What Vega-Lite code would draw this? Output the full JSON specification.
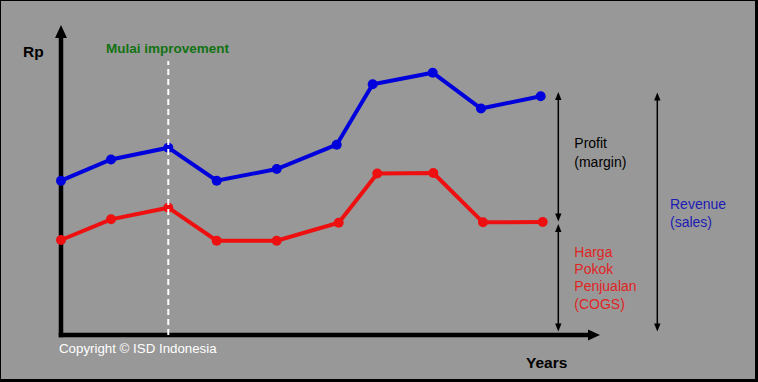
{
  "$schema": "https://vega.github.io/schema/vega-lite/v6.json",
  "width": 758,
  "height": 382,
  "autosize": {"type": "fit", "contains": "padding"},
  "padding": {"left": 1, "top": 1, "right": 3, "bottom": 3},
  "background": "#000000",
  "config": {
    "view": {"fill": "#989898", "stroke": null},
    "font": "Liberation Sans"
  },
  "datasets": {
    "series": [
      {"t": 0, "rp": 154.3, "s": "Revenue"},
      {"t": 50, "rp": 175.5, "s": "Revenue"},
      {"t": 107.3, "rp": 187.3, "s": "Revenue"},
      {"t": 155.7, "rp": 154.3, "s": "Revenue"},
      {"t": 215.7, "rp": 166, "s": "Revenue"},
      {"t": 275.7, "rp": 190.3, "s": "Revenue"},
      {"t": 311.7, "rp": 250.7, "s": "Revenue"},
      {"t": 371.7, "rp": 262.3, "s": "Revenue"},
      {"t": 420, "rp": 226.5, "s": "Revenue"},
      {"t": 479.7, "rp": 238.7, "s": "Revenue"},
      {"t": 0, "rp": 95, "s": "COGS"},
      {"t": 50, "rp": 115.7, "s": "COGS"},
      {"t": 107.3, "rp": 127.3, "s": "COGS"},
      {"t": 155.7, "rp": 94.3, "s": "COGS"},
      {"t": 215.7, "rp": 94.3, "s": "COGS"},
      {"t": 277.7, "rp": 112.3, "s": "COGS"},
      {"t": 316.3, "rp": 161.5, "s": "COGS"},
      {"t": 372.3, "rp": 162, "s": "COGS"},
      {"t": 422, "rp": 112.7, "s": "COGS"},
      {"t": 481.7, "rp": 113, "s": "COGS"}
    ],
    "axes": [
      {"x": 0, "y": 0, "x2": 0, "y2": 300},
      {"x": 0, "y": 0, "x2": 529, "y2": 0}
    ],
    "spans": [
      {"x": 497.3, "y": 117.5, "x2": 497.3, "y2": 239},
      {"x": 497.3, "y": 7.5, "x2": 497.3, "y2": 107},
      {"x": 596.3, "y": 7.5, "x2": 596.3, "y2": 238.5}
    ],
    "upHeads": [
      {"x": 497.3, "y": 239},
      {"x": 497.3, "y": 107},
      {"x": 596.3, "y": 238.5}
    ],
    "downHeads": [
      {"x": 497.3, "y": 117.5},
      {"x": 497.3, "y": 7.5},
      {"x": 596.3, "y": 7.5}
    ],
    "marker": [{"x": 107.3, "y": 0, "y2": 274}],
    "labels": [
      {"label": "Rp", "x": -38, "y": 283.3, "g": "axis"},
      {"label": "Years", "x": 465, "y": -27.7, "g": "axis"},
      {"label": "Mulai improvement", "x": 106.5, "y": 285.7, "g": "start"},
      {"label": "Profit", "x": 513.3, "y": 191, "g": "profit"},
      {"label": "(margin)", "x": 513.3, "y": 172.3, "g": "profit"},
      {"label": "Revenue", "x": 609, "y": 130, "g": "revenue"},
      {"label": "(sales)", "x": 609, "y": 112, "g": "revenue"},
      {"label": "Harga", "x": 513.3, "y": 81.7, "g": "cogs"},
      {"label": "Pokok", "x": 513.3, "y": 65, "g": "cogs"},
      {"label": "Penjualan", "x": 513.3, "y": 48.3, "g": "cogs"},
      {"label": "(COGS)", "x": 513.3, "y": 30, "g": "cogs"},
      {"label": "Copyright © ISD Indonesia", "x": -2, "y": -14.3, "g": "copy"}
    ]
  },
  "resolve": {"scale": {"color": "shared"}},
  "layer": [
    {
      "data": {"name": "axes"},
      "mark": {"type": "rule", "color": "#000000", "strokeWidth": 4.5, "strokeCap": "square"},
      "encoding": {
        "x": {"field": "x", "type": "quantitative", "scale": {"domain": [-60, 694], "nice": false, "zero": false}, "axis": null},
        "y": {"field": "y", "type": "quantitative", "scale": {"domain": [-44, 334], "nice": false, "zero": false}, "axis": null},
        "x2": {"field": "x2"},
        "y2": {"field": "y2"}
      }
    },
    {
      "data": {"values": [{"x": 0, "y": 303.6}]},
      "mark": {"type": "point", "shape": "M0,-1L0.92,1L-0.92,1Z", "size": 169, "filled": true, "color": "#000000", "opacity": 1},
      "encoding": {
        "x": {"field": "x", "type": "quantitative"},
        "y": {"field": "y", "type": "quantitative"}
      }
    },
    {
      "data": {"values": [{"x": 533, "y": 0}]},
      "mark": {"type": "point", "shape": "M1,0L-1,-0.92L-1,0.92Z", "size": 144, "filled": true, "color": "#000000", "opacity": 1},
      "encoding": {
        "x": {"field": "x", "type": "quantitative"},
        "y": {"field": "y", "type": "quantitative"}
      }
    },
    {
      "data": {"name": "spans"},
      "mark": {"type": "rule", "color": "#000000", "strokeWidth": 1.5},
      "encoding": {
        "x": {"field": "x", "type": "quantitative"},
        "y": {"field": "y", "type": "quantitative"},
        "x2": {"field": "x2"},
        "y2": {"field": "y2"}
      }
    },
    {
      "data": {"name": "upHeads"},
      "mark": {"type": "point", "shape": "M0,-1L0.8,1L-0.8,1Z", "size": 64, "filled": true, "color": "#000000", "opacity": 1},
      "encoding": {
        "x": {"field": "x", "type": "quantitative"},
        "y": {"field": "y", "type": "quantitative"}
      }
    },
    {
      "data": {"name": "downHeads"},
      "mark": {"type": "point", "shape": "M0,1L0.8,-1L-0.8,-1Z", "size": 64, "filled": true, "color": "#000000", "opacity": 1},
      "encoding": {
        "x": {"field": "x", "type": "quantitative"},
        "y": {"field": "y", "type": "quantitative"}
      }
    },
    {
      "data": {"name": "series"},
      "mark": {"type": "line", "strokeWidth": 4},
      "encoding": {
        "x": {"field": "t", "type": "quantitative"},
        "y": {"field": "rp", "type": "quantitative"},
        "color": {"field": "s", "type": "nominal", "scale": {"domain": ["Revenue", "COGS"], "range": ["#0000dd", "#ee1010"]}, "legend": null}
      }
    },
    {
      "data": {"name": "series"},
      "mark": {"type": "circle", "size": 100, "opacity": 1},
      "encoding": {
        "x": {"field": "t", "type": "quantitative"},
        "y": {"field": "rp", "type": "quantitative"},
        "color": {"field": "s", "type": "nominal", "legend": null}
      }
    },
    {
      "data": {"name": "marker"},
      "mark": {"type": "rule", "color": "#ffffff", "strokeWidth": 2, "strokeDash": [6, 4]},
      "encoding": {
        "x": {"field": "x", "type": "quantitative"},
        "y": {"field": "y", "type": "quantitative"},
        "y2": {"field": "y2"}
      }
    },
    {
      "data": {"name": "labels"},
      "transform": [{"filter": "datum.g === 'axis'"}],
      "mark": {"type": "text", "align": "left", "baseline": "middle", "fontSize": 15.5, "fontWeight": "bold", "color": "#000000"},
      "encoding": {
        "x": {"field": "x", "type": "quantitative"},
        "y": {"field": "y", "type": "quantitative"},
        "text": {"field": "label"}
      }
    },
    {
      "data": {"name": "labels"},
      "transform": [{"filter": "datum.g === 'start'"}],
      "mark": {"type": "text", "align": "center", "baseline": "middle", "fontSize": 13.5, "fontWeight": "bold", "color": "#127212"},
      "encoding": {
        "x": {"field": "x", "type": "quantitative"},
        "y": {"field": "y", "type": "quantitative"},
        "text": {"field": "label"}
      }
    },
    {
      "data": {"name": "labels"},
      "transform": [{"filter": "datum.g === 'profit'"}],
      "mark": {"type": "text", "align": "left", "baseline": "middle", "fontSize": 14, "color": "#000000"},
      "encoding": {
        "x": {"field": "x", "type": "quantitative"},
        "y": {"field": "y", "type": "quantitative"},
        "text": {"field": "label"}
      }
    },
    {
      "data": {"name": "labels"},
      "transform": [{"filter": "datum.g === 'revenue'"}],
      "mark": {"type": "text", "align": "left", "baseline": "middle", "fontSize": 14, "color": "#1c1cb4"},
      "encoding": {
        "x": {"field": "x", "type": "quantitative"},
        "y": {"field": "y", "type": "quantitative"},
        "text": {"field": "label"}
      }
    },
    {
      "data": {"name": "labels"},
      "transform": [{"filter": "datum.g === 'cogs'"}],
      "mark": {"type": "text", "align": "left", "baseline": "middle", "fontSize": 14, "color": "#e02424"},
      "encoding": {
        "x": {"field": "x", "type": "quantitative"},
        "y": {"field": "y", "type": "quantitative"},
        "text": {"field": "label"}
      }
    },
    {
      "data": {"name": "labels"},
      "transform": [{"filter": "datum.g === 'copy'"}],
      "mark": {"type": "text", "align": "left", "baseline": "middle", "fontSize": 13.3, "color": "#ffffff"},
      "encoding": {
        "x": {"field": "x", "type": "quantitative"},
        "y": {"field": "y", "type": "quantitative"},
        "text": {"field": "label"}
      }
    }
  ]
}
